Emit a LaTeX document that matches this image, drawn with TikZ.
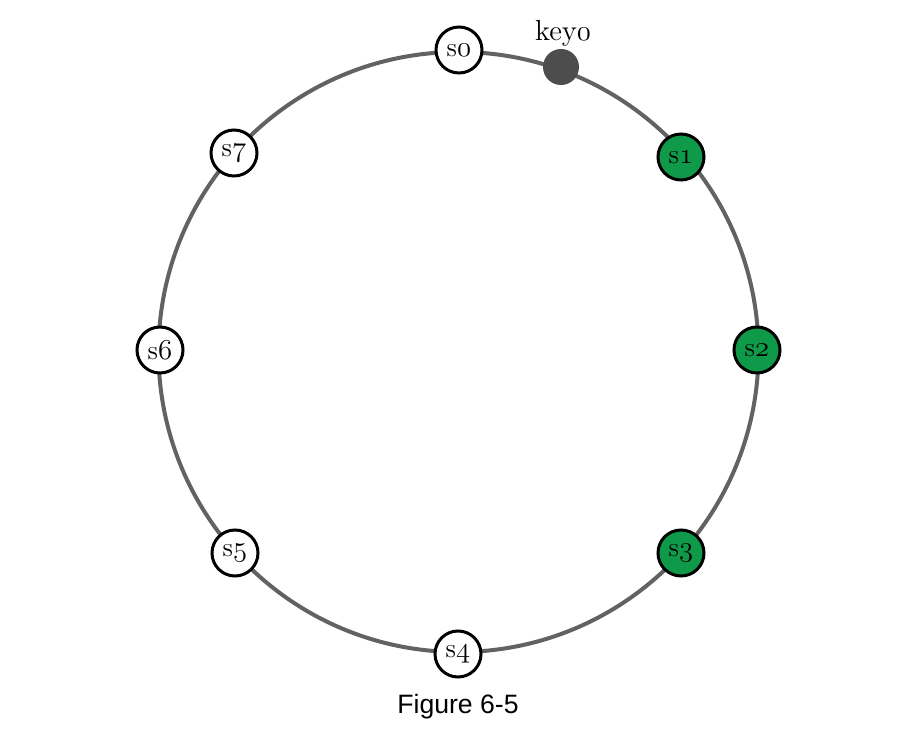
\documentclass[tikz,border=0pt]{standalone}
\usepackage{fontspec}
\newfontfamily\captionfont{Liberation Sans}
\usepackage{tikz}
\usetikzlibrary{positioning}

\definecolor{ringgray}{HTML}{626262}
\definecolor{keygray}{HTML}{4D4D4D}
\definecolor{srvgreen}{HTML}{0E9A48}

% old-style digits from the math italic font
\newcommand{\osn}[1]{$\mathnormal{#1}$}

\begin{document}
\begin{tikzpicture}[
  x=0.5pt, y=0.5pt,
  ring/.style={draw=ringgray, line width=2pt},
  server/.style={draw, circle, line width=1.5pt, fill=white, minimum size=23pt, inner sep=0pt, font=\fontsize{13.5}{15}\selectfont},
  hit/.style={server, fill=srvgreen},
  keydot/.style={circle, fill=keygray, minimum size=18pt, inner sep=0pt}
]
\useasboundingbox (0,0) rectangle (907,734);
\coordinate (c) at (458.5,382);
\draw[ring] (c) circle (300);

\node[server] (s0) at (459,684) {s\osn{0}};
\node[hit]    (s1) at (681,577) {s\osn{1}};
\node[hit]    (s2) at (757,384) {s\osn{2}};
\node[hit]    (s3) at (681,181) {s\osn{3}};
\node[server] (s4) at (458,80)  {s\osn{4}};
\node[server] (s5) at (235,181) {s\osn{5}};
\node[server] (s6) at (160,384) {s\osn{6}};
\node[server] (s7) at (234,581) {s\osn{7}};

\node[keydot] (key0) at (561,667) {};
\node[above=-2.5pt of key0, xshift=1pt, font=\fontsize{14.5}{16}\selectfont] (key0label) {key\osn{0}};

\node[font=\captionfont\fontsize{13.3}{15}\selectfont] (caption) at (458,27) {Figure 6-5};
\end{tikzpicture}
\end{document}
